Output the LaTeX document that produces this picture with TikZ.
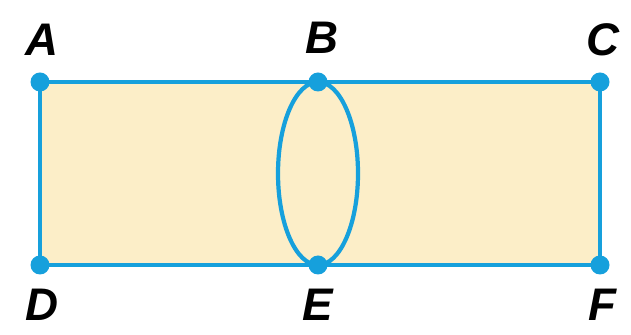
\documentclass[tikz,border=0pt]{standalone}
\usepackage{fontspec}
\setmainfont{Liberation Sans}
\definecolor{edgeblue}{RGB}{22,160,220}
\definecolor{paper}{RGB}{252,238,200}
\tikzset{
  lbl/.style={font=\fontsize{26}{29}\selectfont\bfseries\itshape},
  dot/.style={circle, fill=edgeblue, inner sep=0pt, minimum size=0.38cm}
}

\begin{document}
\begin{tikzpicture}[line width=2.4pt]
  \useasboundingbox (0,0) rectangle (12.62,6.7);
  \coordinate (A) at (0.8,5.06);
  \coordinate (B) at (6.36,5.06);
  \coordinate (C) at (12.0,5.06);
  \coordinate (D) at (0.8,1.4);
  \coordinate (E) at (6.36,1.4);
  \coordinate (F) at (12.0,1.4);
  \filldraw[draw=edgeblue, fill=paper] (A) -- (C) -- (F) -- (D) -- cycle;
  \draw[edgeblue] (6.36,3.23) ellipse (0.8 and 1.83);
  \foreach \p in {A,B,C,D,E,F}
    \node[dot] (dot\p) at (\p) {};
  \node[lbl] (lA) at (0.84,5.9) {A};
  \node[lbl] (lB) at (6.44,5.94) {B};
  \node[lbl] (lC) at (12.06,5.9) {C};
  \node[lbl] (lD) at (0.84,0.6) {D};
  \node[lbl] (lE) at (6.36,0.6) {E};
  \node[lbl] (lF) at (12.04,0.6) {F};
\end{tikzpicture}
\end{document}
